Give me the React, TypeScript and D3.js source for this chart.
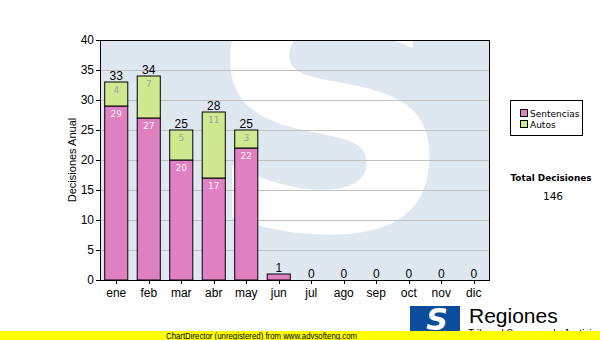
import React from 'react';
import * as d3 from 'd3';

const months = ['ene', 'feb', 'mar', 'abr', 'may', 'jun', 'jul', 'ago', 'sep', 'oct', 'nov', 'dic'];
const sentencias = [29, 27, 20, 17, 22, 1, 0, 0, 0, 0, 0, 0];
const autos = [4, 7, 5, 11, 3, 0, 0, 0, 0, 0, 0, 0];
const yTicks = [0, 5, 10, 15, 20, 25, 30, 35, 40];
const seriesNames = ['Sentencias', 'Autos'];
const seriesColors = ['#df80c0', '#d0e890'];
const yTitle = 'Decisiones Anual';
const totalTitle = 'Total Decisiones';
const footer = 'ChartDirector (unregistered) from www.advsofteng.com';

const PL = 100, PR = 490, PT = 40, PB = 280;

export default function App() {
  const x = d3.scaleBand<string>().domain(months).range([PL, PR]).paddingInner(0.29).paddingOuter(0.145);
  const y = d3.scaleLinear().domain([0, 40]).range([PB, PT]);
  const totals = months.map((_, i) => sentencias[i] + autos[i]);
  const grand = d3.sum(totals);
  const bw = x.bandwidth();
  const font = 'Liberation Sans, Arial, sans-serif';
  const vfont = 'DejaVu Sans, Verdana, sans-serif';

  return (
    <svg width={600} height={340} style={{ position: 'fixed', left: 0, top: 0, background: '#fff' }}>
      <defs>
        <mask id="wm">
          <rect x={PL} y={PT} width={PR - PL} height={PB - PT} fill="#fff" />
          <g transform="translate(330,0) scale(1.05,1)">
            <text x={0} y={230} textAnchor="middle" fontFamily={vfont} fontWeight="bold" fontSize={330} fill="#000">S</text>
          </g>
        </mask>
      </defs>
      <rect x={0} y={0} width={600} height={340} fill="#fff" />
      {/* watermark */}
      <rect x={PL} y={PT} width={PR - PL} height={PB - PT} fill="#dfe8f1" mask="url(#wm)" />
      {/* grid */}
      {yTicks.filter(t => t > 0 && t < 40).map(t => (
        <line key={t} x1={PL} x2={PR} y1={Math.round(y(t)) + 0.5} y2={Math.round(y(t)) + 0.5} stroke="#c0c0c0" strokeWidth={1} />
      ))}
      {/* bars */}
      {months.map((m, i) => {
        const x0 = x(m)!;
        const s = sentencias[i], a = autos[i];
        return (
          <g key={m}>
            {s > 0 && <rect x={x0} y={y(s)} width={bw} height={y(0) - y(s)} fill={seriesColors[0]} stroke="#000" strokeWidth={1} />}
            {a > 0 && <rect x={x0} y={y(s + a)} width={bw} height={y(s) - y(s + a)} fill={seriesColors[1]} stroke="#000" strokeWidth={1} />}
            {s >= 2 && <text x={x0 + bw / 2} y={y(s) + 11} textAnchor="middle" fontFamily={vfont} fontSize={9} fill="#fff4fa">{s}</text>}
            {a >= 2 && <text x={x0 + bw / 2} y={y(s + a) + 11} textAnchor="middle" fontFamily={vfont} fontSize={9} fill="#a0a0a0">{a}</text>}
            <text x={x0 + bw / 2} y={y(totals[i]) - 2.5} textAnchor="middle" fontFamily={font} fontSize={12} fill="#000">{totals[i]}</text>
          </g>
        );
      })}
      {/* plot border */}
      <rect x={PL + 0.5} y={PT + 0.5} width={PR - PL - 1} height={PB - PT} fill="none" stroke="#000" strokeWidth={1} />
      {/* y axis */}
      {yTicks.map(t => (
        <g key={t}>
          <line x1={PL - 4} x2={PL} y1={Math.round(y(t)) + 0.5} y2={Math.round(y(t)) + 0.5} stroke="#000" />
          <text x={PL - 6} y={y(t) + 4} textAnchor="end" fontFamily={font} fontSize={12} fill="#000">{t}</text>
        </g>
      ))}
      <text transform={`translate(76,${(PT + PB) / 2}) rotate(-90)`} textAnchor="middle" fontFamily={font} fontSize={11} fill="#000">{yTitle}</text>
      {/* x axis */}
      {months.map(m => {
        const cx = x(m)! + bw / 2;
        return (
          <g key={m}>
            <line x1={Math.round(cx) + 0.5} x2={Math.round(cx) + 0.5} y1={PB} y2={PB + 4} stroke="#000" />
            <text x={cx} y={297} textAnchor="middle" fontFamily={font} fontSize={12} fill="#000">{m}</text>
          </g>
        );
      })}
      {/* legend */}
      <rect x={510.5} y={100.5} width={72} height={35} fill="#fff" stroke="#000" />
      {seriesNames.map((n, i) => (
        <g key={n}>
          <rect x={520.5} y={109.5 + i * 11} width={7} height={7} fill={seriesColors[i]} stroke="#000" />
          <text x={530} y={117 + i * 11} fontFamily={vfont} fontSize={9} fill="#000">{n}</text>
        </g>
      ))}
      <text x={551} y={181} textAnchor="middle" fontFamily={vfont} fontWeight="bold" fontSize={9} textLength={81} lengthAdjust="spacingAndGlyphs" fill="#000">{totalTitle}</text>
      <text x={553} y={200} textAnchor="middle" fontFamily={vfont} fontSize={10.5} fill="#000">{grand}</text>
      {/* logo */}
      <rect x={410} y={306} width={50} height={26} fill="#0b4d9a" />
      <text x={437} y={330} textAnchor="middle" fontFamily={vfont} fontWeight="bold" fontStyle="italic" fontSize={30} fill="#fff">S</text>
      <text x={469} y={323} fontFamily={font} fontSize={21} fill="#000">Regiones</text>
      <text x={468} y={337} fontFamily={font} fontSize={10} fill="#000">Tribunal Supremo de Justicia</text>
      {/* footer */}
      <rect x={0} y={331} width={600} height={9} fill="#ffff00" />
      <text x={261.5} y={338.5} textAnchor="middle" fontFamily={font} fontSize={9.5} textLength={191} lengthAdjust="spacingAndGlyphs" fill="#000">{footer}</text>
    </svg>
  );
}
